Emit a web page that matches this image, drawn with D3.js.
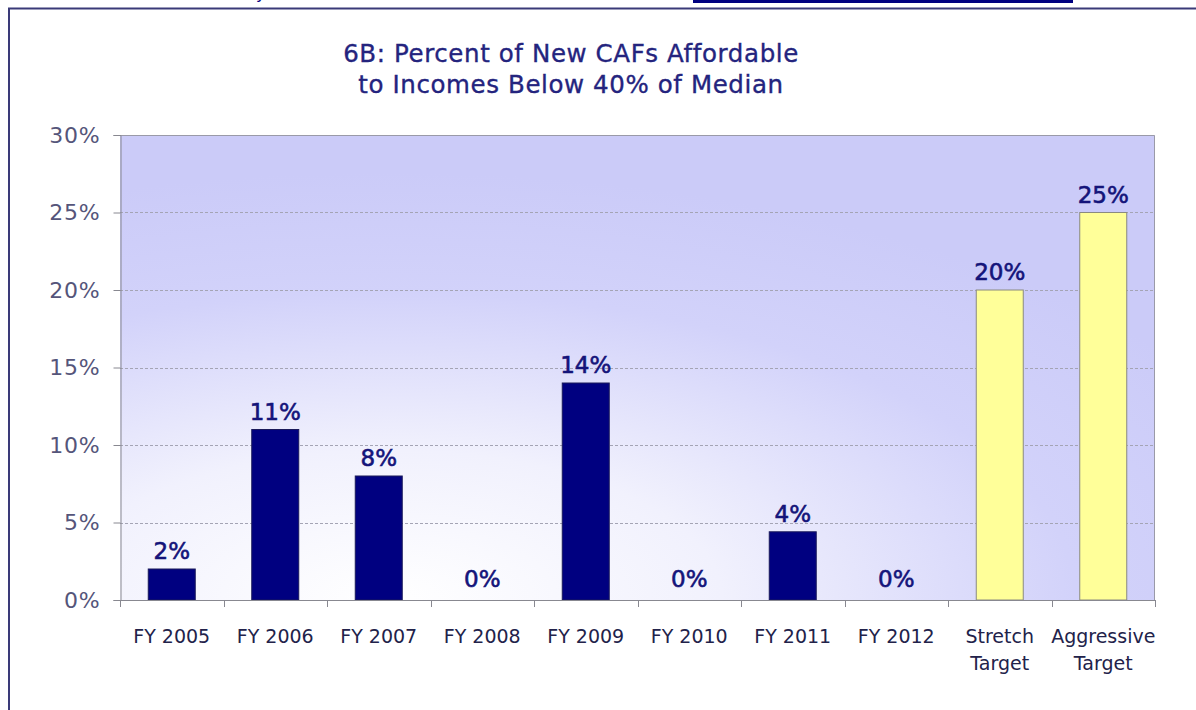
<!DOCTYPE html>
<html>
<head>
<meta charset="utf-8">
<script src="https://cdn.jsdelivr.net/npm/d3@7"></script>
<style>
  html, body { margin: 0; padding: 0; background: #ffffff; }
  svg { display: block; }
</style>
</head>
<body>
<svg id="chart" width="1196" height="710"></svg>
<script>
// Chart data
const categories = ["FY 2005", "FY 2006", "FY 2007", "FY 2008", "FY 2009",
                    "FY 2010", "FY 2011", "FY 2012", "Stretch Target", "Aggressive Target"];
const categoryLines = [["FY 2005"], ["FY 2006"], ["FY 2007"], ["FY 2008"], ["FY 2009"],
                       ["FY 2010"], ["FY 2011"], ["FY 2012"], ["Stretch", "Target"], ["Aggressive", "Target"]];
const values = [0.02, 0.11, 0.08, 0.00, 0.14, 0.00, 0.044, 0.00, 0.20, 0.25];
const isTarget = [false, false, false, false, false, false, false, false, true, true];
const yTicks = [0, 0.05, 0.10, 0.15, 0.20, 0.25, 0.30];
const titleLines = ["6B: Percent of New CAFs Affordable", "to Incomes Below 40% of Median"];

const svg = d3.select("#chart");
const plot = { left: 120, right: 1155, top: 135, bottom: 600 };

const x = d3.scaleBand()
  .domain(categories)
  .range([plot.left, plot.right])
  .paddingInner(0.546)
  .paddingOuter(0.273);
const y = d3.scaleLinear().domain([0, 0.30]).range([plot.bottom, plot.top]);
const pct = d3.format(".0%");

// Plot-area fill: pale centre low on the left, lavender toward top and right
const defs = svg.append("defs");
const grad = defs.append("radialGradient")
  .attr("id", "plotFill")
  .attr("cx", 0.26).attr("cy", 1.0)
  .attr("fx", 0.26).attr("fy", 1.0)
  .attr("r", 0.92);
grad.append("stop").attr("offset", 0).attr("stop-color", "#ffffff");
grad.append("stop").attr("offset", 0.35).attr("stop-color", "#f1f1fd");
grad.append("stop").attr("offset", 0.72).attr("stop-color", "#d2d2fa");
grad.append("stop").attr("offset", 1).attr("stop-color", "#cbcbf8");

// Outer frame
svg.append("rect")
  .attr("x", 9).attr("y", 8.5)
  .attr("width", 1300).attr("height", 800)
  .attr("fill", "#ffffff")
  .attr("stroke", "#3a3a78").attr("stroke-width", 2);

// Fragments of the page line above the frame
svg.append("text")
  .attr("x", 256).attr("y", -1)
  .attr("font-family", "DejaVu Sans").attr("font-size", 16)
  .attr("fill", "#000080")
  .text("y");
svg.append("rect")
  .attr("x", 693).attr("y", 0).attr("width", 380).attr("height", 3)
  .attr("fill", "#000080");

// Title
svg.append("text")
  .attr("x", 571).attr("y", 62)
  .attr("text-anchor", "middle")
  .attr("font-family", "DejaVu Sans").attr("font-size", 24.5)
  .attr("letter-spacing", 0.6)
  .attr("fill", "#24247e")
  .attr("stroke", "#24247e").attr("stroke-width", 0.35)
  .selectAll("tspan").data(titleLines).join("tspan")
  .attr("x", 571)
  .attr("dy", (d, i) => i === 0 ? 0 : 31)
  .text(d => d);

// Plot background
svg.append("rect")
  .attr("x", plot.left).attr("y", plot.top)
  .attr("width", plot.right - plot.left).attr("height", plot.bottom - plot.top)
  .attr("fill", "url(#plotFill)");

// Gridlines
svg.append("g")
  .selectAll("line")
  .data(yTicks.filter(t => t > 0 && t < 0.30))
  .join("line")
  .attr("x1", plot.left).attr("x2", plot.right)
  .attr("y1", d => Math.round(y(d)) + 0.5).attr("y2", d => Math.round(y(d)) + 0.5)
  .attr("stroke", "#a4a4b4").attr("stroke-width", 1)
  .attr("stroke-dasharray", "3,2");

// Plot border (top and right)
svg.append("path")
  .attr("d", `M${plot.left},${plot.top + 0.5}H${plot.right - 0.5}V${plot.bottom}`)
  .attr("fill", "none").attr("stroke", "#9a9aa8").attr("stroke-width", 1);

// Bars
svg.append("g")
  .selectAll("rect")
  .data(categories)
  .join("rect")
  .attr("x", d => x(d))
  .attr("y", (d, i) => y(values[i]))
  .attr("width", x.bandwidth())
  .attr("height", (d, i) => y(0) - y(values[i]))
  .attr("fill", (d, i) => isTarget[i] ? "#ffff99" : "#000080")
  .attr("stroke", (d, i) => isTarget[i] ? "#8a8a80" : "#1a1a5a")
  .attr("stroke-width", 1);

// Value labels
svg.append("g")
  .selectAll("text")
  .data(categories)
  .join("text")
  .attr("x", d => x(d) + x.bandwidth() / 2)
  .attr("y", (d, i) => y(values[i]) - (values[i] === 0 ? 13 : 10))
  .attr("text-anchor", "middle")
  .attr("font-family", "DejaVu Sans").attr("font-size", 23)
  .attr("fill", "#14147a")
  .attr("stroke", "#14147a").attr("stroke-width", 0.6)
  .text((d, i) => pct(values[i]));

// Y axis
const yAxis = svg.append("g")
  .attr("transform", `translate(${plot.left + 0.5},0)`)
  .call(d3.axisLeft(y).tickValues(yTicks).tickFormat(pct).tickSize(7).tickPadding(13));
yAxis.select(".domain").attr("stroke", "#888890");
yAxis.selectAll(".tick line").attr("stroke", "#888890");
yAxis.selectAll(".tick text")
  .attr("font-family", "DejaVu Sans").attr("font-size", 22)
  .attr("letter-spacing", 0.8)
  .attr("fill", "#55557a");

// X axis: ticks sit on category boundaries
const bounds = categories.map((d, i) => plot.left + i * x.step()).concat([plot.right]);
const xAxisG = svg.append("g");
xAxisG.append("line")
  .attr("x1", plot.left).attr("x2", plot.right)
  .attr("y1", plot.bottom + 0.5).attr("y2", plot.bottom + 0.5)
  .attr("stroke", "#888890");
xAxisG.selectAll("line.tk")
  .data(bounds)
  .join("line")
  .attr("class", "tk")
  .attr("x1", d => Math.round(d) + 0.5).attr("x2", d => Math.round(d) + 0.5)
  .attr("y1", plot.bottom).attr("y2", plot.bottom + 7)
  .attr("stroke", "#888890");

xAxisG.selectAll("text.cat")
  .data(categories)
  .join("text")
  .attr("class", "cat")
  .attr("x", d => x(d) + x.bandwidth() / 2)
  .attr("y", 643)
  .attr("text-anchor", "middle")
  .attr("font-family", "DejaVu Sans").attr("font-size", 19)
  .attr("fill", "#22224a")
  .each(function (d, i) {
    const t = d3.select(this);
    const cx = x(d) + x.bandwidth() / 2;
    t.selectAll("tspan").data(categoryLines[i]).join("tspan")
      .attr("x", cx)
      .attr("dy", (s, j) => j === 0 ? 0 : 27)
      .text(s => s);
  });
</script>
</body>
</html>
